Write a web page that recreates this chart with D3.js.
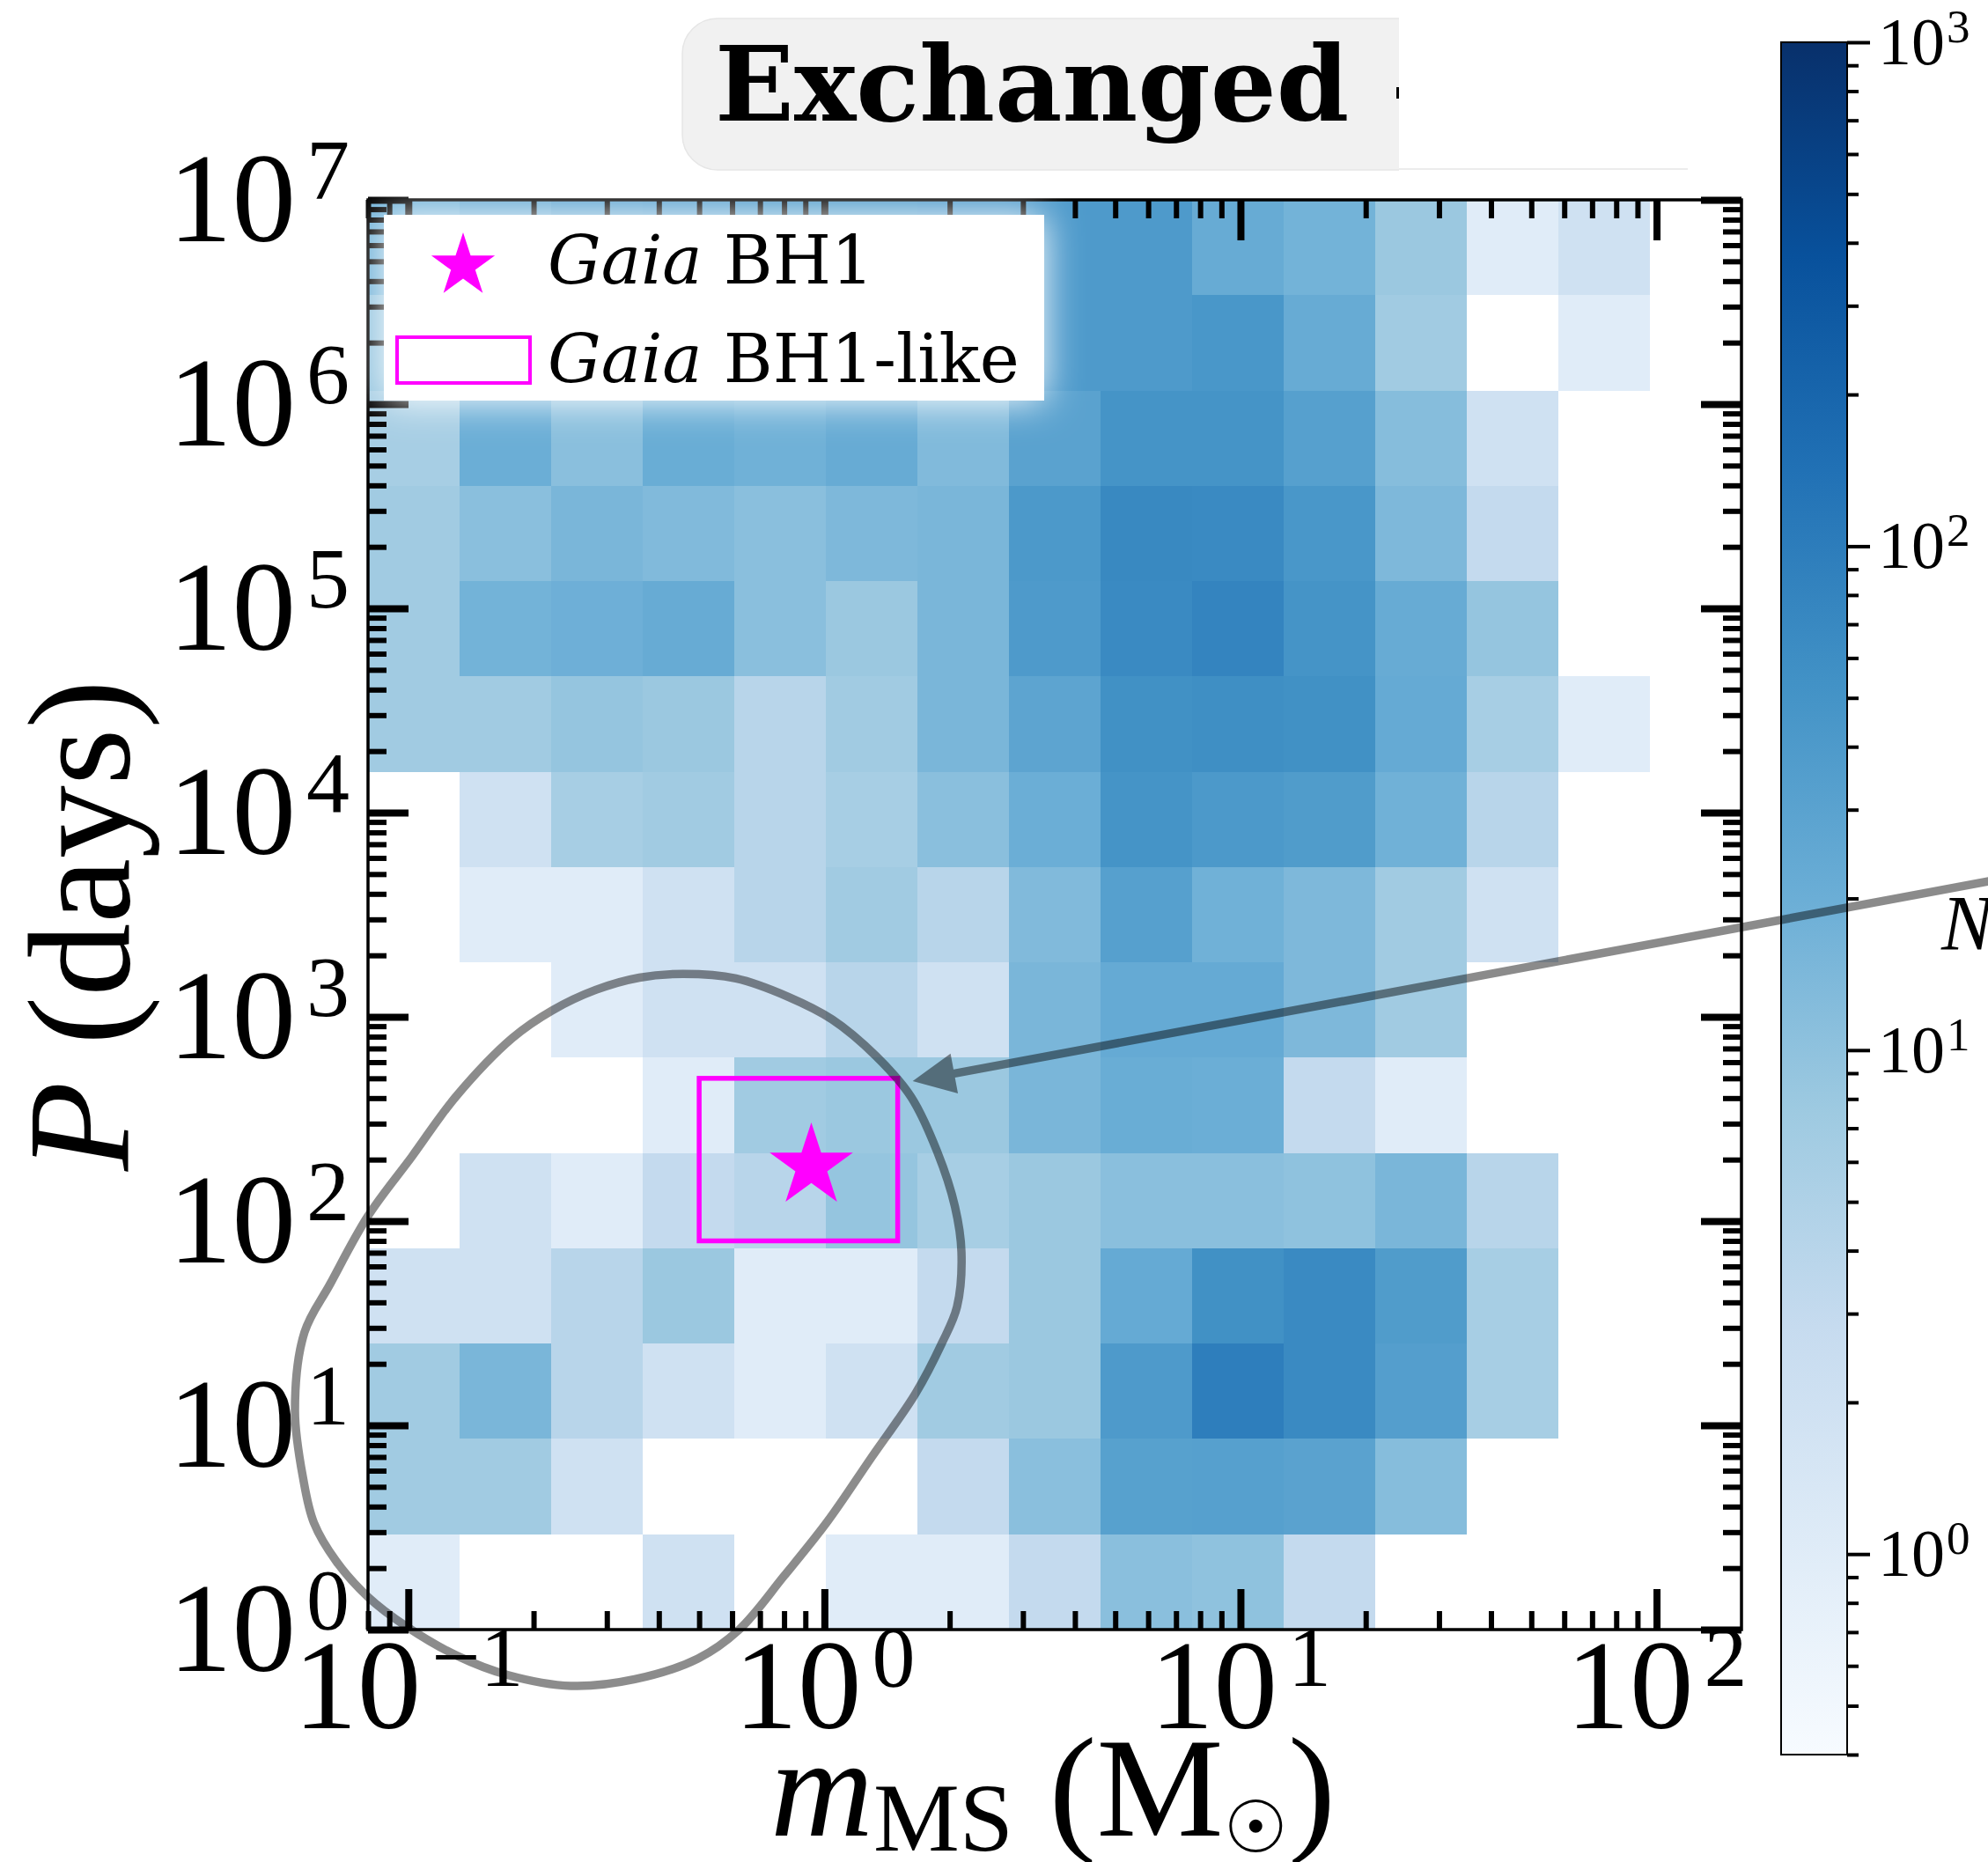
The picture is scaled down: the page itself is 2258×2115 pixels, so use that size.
<!DOCTYPE html>
<html>
<head>
<meta charset="utf-8">
<script src="https://cdn.jsdelivr.net/npm/d3@7"></script>
<style>
  body { margin: 0; background: #fff; }
  svg { display: block; }
</style>
</head>
<body>
<svg id="chart" width="2258" height="2115"></svg>
<script>
// ---- data ----
// log-spaced bin edges of the 2D histogram
const massEdges = [0.08, 0.1328, 0.2205, 0.3659, 0.6075, 1.008, 1.673, 2.778, 4.611, 7.655, 12.71, 21.09, 35.0, 58.08, 96.4, 160];
const periodEdges = [1, 2.929, 8.577, 25.12, 73.56, 215.4, 631.0, 1848, 5412, 15849, 46416, 135936, 398107, 1165914, 3414549, 1e7];

// counts per cell, one row per period bin (shortest period first), one entry per mass bin
const counts = [
  [1, 0, 0, 2, 0, 1, 1, 3, 11, 10, 3, 0, 0, 0, 0],
  [7, 7, 2, 0, 0, 0, 3, 11, 32, 33, 30, 12, 0, 0, 0],
  [7, 15, 4, 2, 1, 2, 7, 8, 40, 95, 68, 35, 6, 0, 0],
  [2, 2, 4, 8, 1, 1, 3, 8, 23, 55, 68, 38, 6, 0, 0],
  [0, 2, 1, 3, 4, 9, 6, 8, 11, 11, 10, 15, 4, 0, 0],
  [0, 0, 0, 1, 7, 8, 8, 15, 21, 20, 3, 1, 0, 0, 0],
  [0, 0, 1, 2, 2, 4, 2, 15, 23, 23, 14, 7, 0, 0, 0],
  [0, 1, 1, 2, 4, 7, 4, 13, 33, 18, 14, 7, 2, 0, 0],
  [0, 2, 6, 7, 4, 6, 11, 20, 50, 42, 38, 18, 4, 0, 0],
  [7, 7, 9, 8, 4, 7, 15, 28, 55, 58, 55, 23, 6, 1, 0],
  [7, 17, 19, 22, 11, 8, 15, 40, 68, 80, 50, 22, 9, 0, 0],
  [7, 11, 15, 13, 11, 14, 15, 42, 70, 68, 45, 14, 3, 0, 0],
  [6, 20, 11, 21, 18, 22, 13, 30, 50, 50, 33, 12, 2, 0, 0],
  [9, 25, 22, 25, 28, 30, 35, 40, 40, 45, 22, 7, 0, 1, 0],
  [17, 22, 28, 30, 38, 38, 40, 40, 40, 22, 17, 8, 1, 2, 0]
];

const gaiaBH1 = [0.93, 185.6];            // [mass, period]
const likeMass = [0.5, 1.5];
const likePeriod = [80, 500];

// outline contour, [mass, period]
const contour = [
  [0.080, 106], [0.102, 207], [0.130, 406], [0.178, 789], [0.2215, 1074], [0.282, 1355],
  [0.359, 1556], [0.458, 1622], [0.613, 1542], [0.819, 1253], [1.044, 971], [1.330, 643],
  [1.615, 406], [1.868, 218], [2.059, 118], [2.135, 70.5], [2.083, 38.0], [1.915, 25.2],
  [1.655, 14.3], [1.298, 6.97], [1.019, 3.40], [0.800, 1.83], [0.624, 1.00], [0.4965, 0.721],
  [0.350, 0.571], [0.246, 0.530], [0.173, 0.600], [0.1308, 0.745], [0.0988, 1.038], [0.080, 1.445],
  [0.0671, 2.16], [0.0593, 3.33], [0.0559, 5.46], [0.0534, 11.8], [0.0563, 28.6], [0.0648, 49.0]
];

// arrow pointing at the box, [mass, period]
const arrowFrom = [1000, 5495];
const arrowTo = [1.63, 484];

const xMajor = [0.1, 1, 10, 100];
const yMajor = [1, 10, 100, 1e3, 1e4, 1e5, 1e6, 1e7];
const cbarMajor = [1, 10, 100, 1000];
const cbarRange = [0.4, 1000];

// ---- layout ----
const svg = d3.select("#chart");
const L = 418, R = 1978, T = 227, B = 1851;
const mathFont = "'Liberation Serif', 'Times New Roman', serif";
const textFont = "'DejaVu Serif', serif";

const x = d3.scaleLog().domain([massEdges[0], massEdges[massEdges.length - 1]]).range([L, R]);
const y = d3.scaleLog().domain([periodEdges[0], periodEdges[periodEdges.length - 1]]).range([B, T]);

const blues = ["#f7fbff", "#deebf7", "#c6dbef", "#9ecae1", "#6baed6", "#4292c6", "#2171b5", "#08519c", "#08306b"];
const tNorm = d3.scaleLog().domain(cbarRange).range([0, 1]).clamp(true);
const cmap = d3.scaleLinear().domain(d3.range(9).map(i => i / 8)).range(blues);
const color = n => cmap(tNorm(n));

function minorTicks(lo, hi) {
  const out = [];
  for (let e = Math.floor(Math.log10(lo)); e <= Math.ceil(Math.log10(hi)); e++) {
    for (let k = 2; k <= 9; k++) {
      const v = k * Math.pow(10, e);
      if (v >= lo * 0.999 && v <= hi * 1.001) out.push(v);
    }
  }
  return out;
}

function addPow(sel, v, supSize, raise, gap) {
  const e = Math.round(Math.log10(v));
  sel.append("tspan").text("10");
  sel.append("tspan").attr("font-size", supSize).attr("dy", -raise).attr("dx", gap)
    .text(e < 0 ? "\u2212" + (-e) : String(e));
}

const defs = svg.append("defs");
defs.append("filter").attr("id", "halo").attr("x", "-30%").attr("y", "-60%")
  .attr("width", "160%").attr("height", "220%")
  .append("feGaussianBlur").attr("stdDeviation", 22);
defs.append("clipPath").attr("id", "titleClip")
  .append("rect").attr("x", 0).attr("y", 0).attr("width", 1589).attr("height", 220);

// ---- title ----
svg.append("rect").attr("clip-path", "url(#titleClip)")
  .attr("x", 775).attr("y", 21).attr("width", 900).attr("height", 172).attr("rx", 40)
  .attr("fill", "#f1f1f1").attr("stroke", "#e6e6e6").attr("stroke-width", 1.5);
svg.append("line").attr("x1", 1589).attr("x2", 1917).attr("y1", 192).attr("y2", 192)
  .attr("stroke", "#ececec").attr("stroke-width", 2);
svg.append("rect").attr("x", 1586).attr("y", 99).attr("width", 3).attr("height", 13).attr("fill", "#000");
svg.append("text").attr("x", 812).attr("y", 137)
  .attr("font-family", textFont).attr("font-weight", "bold").attr("font-size", 118)
  .text("Exchanged");

// ---- heatmap ----
const cells = [];
counts.forEach((row, i) => row.forEach((n, j) => { if (n > 0) cells.push({ i, j, n }); }));
svg.append("g").selectAll("rect").data(cells).join("rect")
  .attr("x", d => x(massEdges[d.j]))
  .attr("y", d => y(periodEdges[d.i + 1]))
  .attr("width", d => x(massEdges[d.j + 1]) - x(massEdges[d.j]))
  .attr("height", d => y(periodEdges[d.i]) - y(periodEdges[d.i + 1]))
  .attr("fill", d => color(d.n))
  .attr("shape-rendering", "crispEdges");

// ---- Gaia BH1-like box and star ----
svg.append("rect")
  .attr("x", x(likeMass[0])).attr("y", y(likePeriod[1]))
  .attr("width", x(likeMass[1]) - x(likeMass[0]))
  .attr("height", y(likePeriod[0]) - y(likePeriod[1]))
  .attr("fill", "none").attr("stroke", "#ff00ff").attr("stroke-width", 5.5);

svg.append("path")
  .attr("d", d3.symbol(d3.symbolStar, 2773)())
  .attr("transform", `translate(${x(gaiaBH1[0])},${y(gaiaBH1[1])})`)
  .attr("fill", "#ff00ff");

// ---- contour ----
const contourLine = d3.line().x(d => x(d[0])).y(d => y(d[1])).curve(d3.curveCatmullRomClosed.alpha(0.5));
svg.append("path").attr("d", contourLine(contour))
  .attr("fill", "none").attr("stroke", "#000").attr("stroke-opacity", 0.45).attr("stroke-width", 9.5);

// ---- axes (ticks inward on all four sides) ----
function addTicks(axis, transform, values, size, width) {
  const g = svg.append("g").attr("transform", transform)
    .call(axis.tickValues(values).tickSizeInner(-size).tickSizeOuter(0).tickFormat(() => ""));
  g.select(".domain").remove();
  g.selectAll(".tick line").attr("stroke", "#000").attr("stroke-width", width);
  g.selectAll(".tick text").remove();
}
const xMinor = minorTicks(x.domain()[0], x.domain()[1]);
const yMinor = minorTicks(y.domain()[0], y.domain()[1]);
addTicks(d3.axisBottom(x), `translate(0,${B})`, xMinor, 21, 6);
addTicks(d3.axisBottom(x), `translate(0,${B})`, xMajor, 46, 8);
addTicks(d3.axisTop(x), `translate(0,${T})`, xMinor, 21, 6);
addTicks(d3.axisTop(x), `translate(0,${T})`, xMajor, 46, 8);
addTicks(d3.axisLeft(y), `translate(${L},0)`, yMinor, 21, 6);
addTicks(d3.axisLeft(y), `translate(${L},0)`, yMajor, 46, 8);
addTicks(d3.axisRight(y), `translate(${R},0)`, yMinor, 21, 6);
addTicks(d3.axisRight(y), `translate(${R},0)`, yMajor, 46, 8);

svg.append("rect").attr("x", L).attr("y", T).attr("width", R - L).attr("height", B - T)
  .attr("fill", "none").attr("stroke", "#000").attr("stroke-width", 3.5);

// tick labels
svg.append("g").selectAll("text").data(xMajor).join("text")
  .attr("x", d => x(d)).attr("y", B + 112).attr("text-anchor", "middle")
  .attr("font-family", mathFont).attr("font-size", 145)
  .each(function (d) { addPow(d3.select(this), d, 98, 48, 12); });

svg.append("g").selectAll("text").data(yMajor).join("text")
  .attr("x", L - 21).attr("y", d => y(d) + 47).attr("text-anchor", "end")
  .attr("font-family", mathFont).attr("font-size", 145)
  .each(function (d) { addPow(d3.select(this), d, 98, 48, 12); });

// axis labels
const xl = svg.append("text").attr("x", 1196).attr("y", 2085).attr("text-anchor", "middle")
  .attr("font-family", mathFont).attr("font-size", 162);
xl.append("tspan").attr("font-style", "italic").text("m");
xl.append("tspan").attr("font-size", 110).attr("dy", 17).text("MS");
xl.append("tspan").attr("dy", -17).text(" (M");
xl.append("tspan").attr("font-family", "'DejaVu Sans', sans-serif").attr("font-size", 82).attr("dy", 19).text("\u2609");
xl.append("tspan").attr("dy", -19).text(")");

const yl = svg.append("text").attr("transform", "translate(146,1051) rotate(-90)")
  .attr("text-anchor", "middle").attr("font-family", mathFont).attr("font-size", 166);
yl.append("tspan").attr("font-style", "italic").text("P");
yl.append("tspan").text(" (days)");

// ---- legend ----
const lg = { x: 436, y: 244, w: 750, h: 211 };
svg.append("rect").attr("x", lg.x).attr("y", lg.y).attr("width", lg.w).attr("height", lg.h)
  .attr("fill", "#fff").attr("filter", "url(#halo)");
svg.append("rect").attr("x", lg.x).attr("y", lg.y).attr("width", lg.w).attr("height", lg.h)
  .attr("fill", "#fff");
svg.append("path").attr("d", d3.symbol(d3.symbolStar, 1621)())
  .attr("transform", "translate(526,302)").attr("fill", "#ff00ff");
svg.append("rect").attr("x", 451).attr("y", 383).attr("width", 151).attr("height", 52)
  .attr("fill", "none").attr("stroke", "#ff00ff").attr("stroke-width", 4);
const legendLabels = ["BH1", "BH1-like"];
legendLabels.forEach((lab, i) => {
  const t = svg.append("text").attr("x", 622).attr("y", 322 + i * 112)
    .attr("font-family", textFont).attr("font-size", 76);
  t.append("tspan").attr("font-style", "italic").text("Gaia");
  t.append("tspan").text(" " + lab);
});

// ---- colorbar ----
const cb = { x: 2023, w: 75 };
const cy = d3.scaleLog().domain(cbarRange).range([1993, 48]);
const grad = defs.append("linearGradient").attr("id", "cbGrad")
  .attr("x1", 0).attr("y1", 1).attr("x2", 0).attr("y2", 0);
blues.forEach((c, i) => grad.append("stop").attr("offset", i / 8).attr("stop-color", c));
svg.append("rect").attr("x", cb.x).attr("y", cy(cbarRange[1])).attr("width", cb.w)
  .attr("height", cy(cbarRange[0]) - cy(cbarRange[1]))
  .attr("fill", "url(#cbGrad)").attr("stroke", "#000").attr("stroke-width", 2);

function addCbTicks(values, size, width) {
  const g = svg.append("g").attr("transform", `translate(${cb.x + cb.w},0)`)
    .call(d3.axisRight(cy).tickValues(values).tickSizeInner(size).tickSizeOuter(0).tickFormat(() => ""));
  g.select(".domain").remove();
  g.selectAll(".tick line").attr("stroke", "#000").attr("stroke-width", width);
  g.selectAll(".tick text").remove();
}
addCbTicks(minorTicks(cbarRange[0], cbarRange[1]), 13, 4);
addCbTicks(cbarMajor, 26, 4);

svg.append("g").selectAll("text").data(cbarMajor).join("text")
  .attr("x", 2133).attr("y", d => cy(d) + 25)
  .attr("font-family", mathFont).attr("font-size", 76)
  .each(function (d) { addPow(d3.select(this), d, 53, 25, 2); });

svg.append("text").attr("x", 2205).attr("y", 1078)
  .attr("font-family", mathFont).attr("font-style", "italic").attr("font-size", 88).text("N");

// ---- arrow (figure level, drawn on top) ----
const p0 = [x(arrowFrom[0]), y(arrowFrom[1])];
const p1 = [x(arrowTo[0]), y(arrowTo[1])];
const len = Math.hypot(p0[0] - p1[0], p0[1] - p1[1]);
const ux = (p0[0] - p1[0]) / len, uy = (p0[1] - p1[1]) / len;
const headLen = 48, headHalf = 23;
const base = [p1[0] + ux * headLen, p1[1] + uy * headLen];
const ag = svg.append("g").attr("opacity", 0.45);
ag.append("line").attr("x1", p0[0]).attr("y1", p0[1]).attr("x2", base[0] + ux * -4).attr("y2", base[1] + uy * -4)
  .attr("stroke", "#000").attr("stroke-width", 9.5);
ag.append("path")
  .attr("d", `M${p1[0]},${p1[1]}L${base[0] - uy * headHalf},${base[1] + ux * headHalf}L${base[0] + uy * headHalf},${base[1] - ux * headHalf}Z`)
  .attr("fill", "#000");
</script>
</body>
</html>
